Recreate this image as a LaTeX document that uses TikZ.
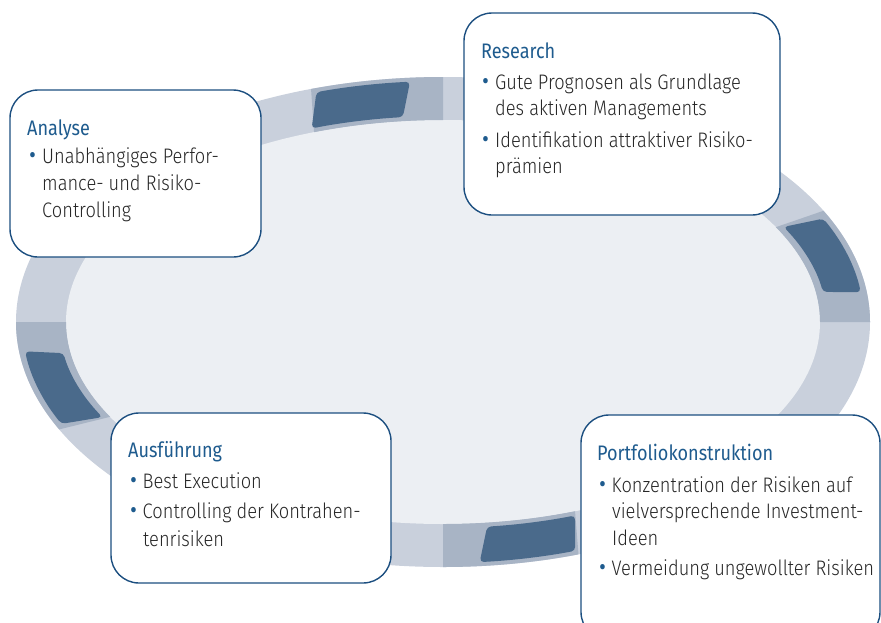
\documentclass[tikz,border=0pt]{standalone}
\usepackage{fontspec}
\setmainfont{Fira Sans}[UprightFont=* Light, FakeStretch=0.87]
\newfontfamily\headfont{Fira Sans}[FakeStretch=0.86]
\usetikzlibrary{positioning}

\definecolor{ringlight}{HTML}{C9D0DC}
\definecolor{ringmid}{HTML}{A8B4C5}
\definecolor{ringdark}{HTML}{4A6A8B}
\definecolor{ringin}{HTML}{ECEFF3}
\definecolor{boxline}{HTML}{1C4F80}
\definecolor{headblue}{HTML}{1E5B8E}
\definecolor{bodygrey}{HTML}{262626}

% bullet with fixed width
\newcommand\bul{\makebox[13.5pt][l]{\textcolor{headblue}{\raisebox{-4.6pt}[0pt][0pt]{\scalebox{1.7}{\textbullet}}}}}
% band piece: style, outer angles, inner angles, outer radii, inner radii
\newcommand\seg[9]{%
  \fill[#1] (#2:#6 and #7) arc[start angle=#2, end angle=#3, x radius=#6, y radius=#7]
    -- (#5:#8 and #9) arc[start angle=#5, end angle=#4, x radius=#8, y radius=#9] -- cycle;}

\begin{document}
\begin{tikzpicture}[x=1pt, y=-1pt,
    phase/.style={draw=boxline, line width=1.4pt, fill=white, rounded corners=28pt, inner sep=0pt},
    head/.style={anchor=base west, inner sep=0pt, text=headblue, font=\headfont\fontsize{21}{25}\selectfont},
    body/.style={anchor=base west, inner sep=0pt, text=bodygrey, font=\fontsize{21}{25}\selectfont},
    shade/.style={ringmid},
    block/.style={ringdark, rounded corners=4pt}]
  \useasboundingbox (0,0) rectangle (881,622);
  \clip (0,0) rectangle (881,622);

  % ring
  \begin{scope}[shift={(443,322)}]
    \fill[ringlight] (0,0) ellipse[x radius=427, y radius=245];
    \fill[ringin] (0,0) ellipse[x radius=377, y radius=202];
    \seg{shade}{-108}{-90}{-110}{-90}{427}{245}{377}{202}
    \seg{shade}{-27}{0}{-28}{0}{427}{245}{377}{202}
    \seg{shade}{71.5}{90}{69.5}{90}{427}{245}{377}{202}
    \seg{shade}{154}{180}{152}{180}{427}{245}{377}{202}
    \seg{block}{-107.5}{-94.5}{-110}{-96}{421}{241}{384}{206}
    \seg{block}{-25.4}{-7.1}{-27.5}{-8.4}{421}{241}{384}{206}
    \seg{block}{71.7}{85}{69.9}{83.4}{421}{241}{384}{206}
    \seg{block}{155}{173}{152.5}{171.3}{421}{241}{384}{206}
  \end{scope}

  % boxes
  \node[phase, minimum width=251pt, minimum height=167pt] (ana) at (135.5,173.5) {};
  \node[phase, minimum width=316pt, minimum height=202pt] (res) at (622,114) {};
  \node[phase, minimum width=280pt, minimum height=170pt] (aus) at (251,498) {};
  \node[phase, minimum width=299pt, minimum height=225pt] (por) at (730.5,527.5) {};

  % Analyse
  \node[head] (anaH) at (27,135) {Analyse};
  \node[body] (ana1) at (28.5,163) {\bul Unabhängiges Perfor-};
  \node[body] (ana2) at (42,190) {mance- und Risiko-};
  \node[body] (ana3) at (42,217) {Controlling};

  % Research
  \node[head] (resH) at (481,58) {Research};
  \node[body] (res1) at (481.5,89) {\bul Gute Prognosen als Grundlage};
  \node[body] (res2) at (495,115) {des aktiven Managements};
  \node[body] (res3) at (481.5,147) {\bul Identifikation attraktiver Risiko-};
  \node[body] (res4) at (495,173) {prämien};

  % Ausfuehrung
  \node[head] (ausH) at (128,457) {Ausführung};
  \node[body] (aus1) at (129,488) {\bul Best Execution};
  \node[body] (aus2) at (129,518) {\bul Controlling der Kontrahen-};
  \node[body] (aus3) at (143,546) {tenrisiken};

  % Portfoliokonstruktion
  \node[head] (porH) at (597,460) {Portfoliokonstruktion};
  \node[body] (por1) at (598,492) {\bul Konzentration der Risiken auf};
  \node[body] (por2) at (612,518) {vielversprechende Investment-};
  \node[body] (por3) at (612,545) {Ideen};
  \node[body] (por4) at (598,575) {\bul Vermeidung ungewollter Risiken};
\end{tikzpicture}
\end{document}
